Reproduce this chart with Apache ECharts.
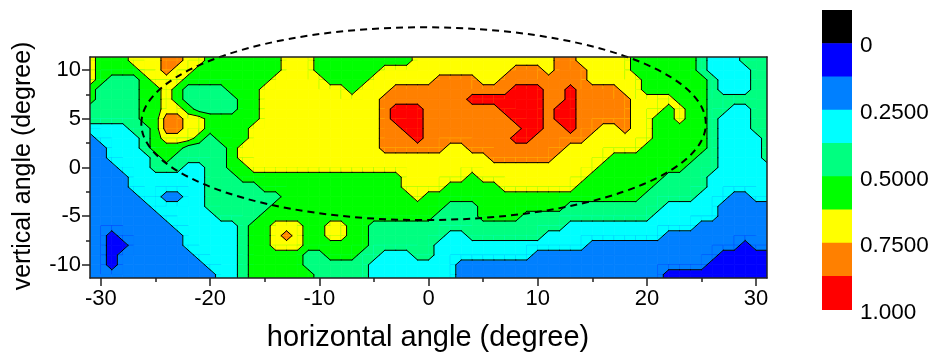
<!DOCTYPE html>
<html>
<head>
<meta charset="utf-8">
<title>angle map</title>
<script src="https://cdn.jsdelivr.net/npm/echarts@6/dist/echarts.min.js"></script>
<style>
  html, body { margin: 0; padding: 0; background: #fff; }
  #chart { width: 937px; height: 358px; }
</style>
</head>
<body>
<div id="chart"></div>
<script>
// grid nodes (degree)
const xNodes = [-31, -30, -29, -28, -27, -26, -25, -24, -23, -22, -21, -20, -19, -18, -17, -16,
  -15, -14, -13, -12, -11, -10, -9, -8, -7, -6, -5, -4, -3, -2, -1, 0, 1, 2, 3, 4, 5, 6, 7, 8,
  9, 10, 11, 12, 13, 14, 15, 16, 17, 18, 19, 20, 21, 22, 23, 24, 25, 26, 27, 28, 29, 30, 31];
const yNodes = [12, 11, 10, 9, 8, 7, 6, 5, 4, 3, 2, 1, 0, -1, -2, -3, -4, -5, -6, -7, -8, -9, -10, -11, -12];

// colour band at every node, one string per row (top row first)
// 1 blue, 2 azure, 3 cyan, 4 spring green, 5 green, 6 yellow, 7 orange, 8 red
const bandRows = [
  "6 555 666 77 66 5555555 666 555555555 6666666666666 77 66666 555555 4 333 444",
  "6 555 666 77 66 5555555 666 555555555 6666666666666 77 66666 555555 4 333 444",
  "6 5555 66 7 66 55555555 666 555555 666666666666 777 6 777 6666 555555 4 3333 44",
  "6 5 444 5 666 55555555 66666 5555 666666 7777 66 77777777 66666 555555 4 333 44",
  "5 4444 55 6 5 4444 555 66666666 5 666 77777777777 888 77 8 7777 66 555555 4 333 44",
  "5 4444 55 6 5 44444 55 66666666666 77777777 8888888 77 8 77777 6666 555 444444",
  "44444 55 66 5 4444 55 66666666666 7 888 7777777 8888 7 88 77777 666 5 6 55 44 33 44",
  "44444 55 77 66 55555 66666666666 7 888 77777777 888 7 88 77777 66 55 6 55 4 333 44",
  "3333 44 5 77 66 5555 666666666666 77 88 777777777 88 77 8 77 66 7 66 55555 4 333 44",
  "2 3333 4 5 666 5 4 555 666666666666 777 8 77777777 88 77777 666666 55555 4 3333 4",
  "22 333 4 555 4444 5 6666666666666 777777 66 777777777 6666666 555555 4 3333 4",
  "22 3333 4 5 44444 5 66666666666666666666666 777777 66666 55555555 44 3333 4",
  "222 333 444 33 44 55 66666666666666666666666666666666 55555555 444 33333",
  "2222 3333333 444 555555555555555 666666 5 6666666666 5555555 4444 333333",
  "2222 3333333 44444 5555555555555 6666 55555 6666666 5555555 44444 333333",
  "22222 33 22 33 4444444 555555555555 6 55555555555555555555 44444 333 22 33",
  "222222 33333 444444 5555555555555555 444 55555555 444444444 33333 22222",
  "2222222 33333 4444 5555555555555555 4444 5555 444444444444 333333 22222",
  "22222222 333333 4 55 666 55 66 55 444444444444444444 333333333333 2222222",
  "22 1 222222 33333 4 55 6 7 6 55 66 55 4444444 33 4444444 33333333333 2222222222",
  "22 11 22222 33333 4 55 666 555555 444444 33333333333333 22222222222222 1 22",
  "22 1 2222222 3333 4 55555 44 555 44 333 44 333333333 22222222222222222 11111",
  "22 1 22222222 333 4 55555 444444 33333333 22222222222222222222222 111111",
  "222222222222 33 4 555555 44444 33333333 2222222222222222222 1111111111",
  "222222222222 33 4 555555 44444 33333333 2222222222222222222 1111111111"
];

const bandColors = ['#000000', '#0000ff', '#0080ff', '#00ffff', '#00ff80', '#00ff00', '#ffff00', '#ff8000', '#ff0000'];
const barLabels = ['0', '0.2500', '0.5000', '0.7500', '1.000'];
const barLabelSlots = [1, 3, 5, 7, 9];

const xMajorTicks = [-30, -20, -10, 0, 10, 20, 30];
const xMinorTicks = [-25, -15, -5, 5, 15, 25];
const yMajorTicks = [-10, -5, 0, 5, 10];
const yMinorTicks = [-7.5, -2.5, 2.5, 7.5];

// dashed outline: centre x, centre y, half width, half height (degree)
const outline = [-0.45, 4.5, 25.85, 9.9];

const grid = bandRows.map(r => r.replace(/\s+/g, '').split('').map(Number));
const badRows = grid.map((r, i) => r.length === xNodes.length ? -1 : i).filter(i => i >= 0);

const cells = [];
for (let r = 0; r < yNodes.length - 1; r++) {
  for (let c = 0; c < xNodes.length - 1; c++) cells.push([c, r]);
}

function corners(c, r) {
  return [
    [xNodes[c], yNodes[r], grid[r][c]],
    [xNodes[c + 1], yNodes[r], grid[r][c + 1]],
    [xNodes[c + 1], yNodes[r + 1], grid[r + 1][c + 1]],
    [xNodes[c], yNodes[r + 1], grid[r + 1][c]]
  ];
}

function cut(a, b, k) {
  const f = (k - 0.5 - a[2]) / (b[2] - a[2]);
  return [a[0] + f * (b[0] - a[0]), a[1] + f * (b[1] - a[1])];
}

// part of a cell where band >= k
function bandPolygon(pts, k) {
  const out = [];
  for (let i = 0; i < 4; i++) {
    const a = pts[i], b = pts[(i + 1) % 4];
    if (a[2] >= k) out.push([a[0], a[1]]);
    if ((a[2] >= k) !== (b[2] >= k)) out.push(cut(a, b, k));
  }
  return out;
}

// contour pieces for level k inside a cell
function bandEdges(pts, k) {
  const cross = [];
  for (let i = 0; i < 4; i++) {
    const a = pts[i], b = pts[(i + 1) % 4];
    if ((a[2] >= k) !== (b[2] >= k)) cross.push({ p: cut(a, b, k), leaving: a[2] >= k });
  }
  const segs = [];
  cross.forEach((q, j) => {
    if (q.leaving) segs.push([q.p, cross[(j + 1) % cross.length].p]);
  });
  return segs;
}

function levelsOf(pts) {
  const lv = pts.map(p => p[2]);
  return [Math.min.apply(null, lv), Math.max.apply(null, lv)];
}

const font = "'Liberation Sans', Arial, Helvetica, sans-serif";
const axisColor = '#222';

const chart = echarts.init(document.getElementById('chart'), null, { renderer: 'canvas' });

const graphics = [
  {
    type: 'text', x: 428, y: 338, z: 20,
    style: { text: 'horizontal angle (degree)', font: '29px ' + font, fill: '#000', textAlign: 'center', textVerticalAlign: 'middle' }
  },
  {
    type: 'text', x: 23, y: 166, rotation: Math.PI / 2, z: 20,
    style: { text: 'vertical angle (degree)', font: '25px ' + font, fill: '#000', textAlign: 'center', textVerticalAlign: 'middle' }
  }
];

// colour bar
const barLeft = 822, barTop = 10, barW = 30, barH = 33.26;
bandColors.forEach((col, i) => {
  graphics.push({
    type: 'rect', z: 20,
    shape: { x: barLeft, y: barTop + i * barH, width: barW, height: barH + 0.6 },
    style: { fill: col }
  });
});
barLabels.forEach((t, j) => {
  graphics.push({
    type: 'text', x: 860, y: barTop + barLabelSlots[j] * barH + 3, z: 20,
    style: { text: t, font: '22.5px ' + font, fill: '#000', textAlign: 'left', textVerticalAlign: 'middle' }
  });
});
if (badRows.length) {
  graphics.push({ type: 'text', x: 5, y: 5, z: 30, style: { text: 'bad rows ' + badRows.join(','), fill: 'red', font: '14px sans-serif' } });
}

function valueAxis(extra, min, max) {
  return Object.assign({
    type: 'value', min: min, max: max, z: 10,
    splitLine: { show: false },
    axisLine: { show: false, onZero: false },
    axisTick: { show: false },
    axisLabel: { show: false }
  }, extra);
}

const lineStyle = { color: axisColor, width: 1.5 };

chart.setOption({
  animation: false,
  grid: { left: 90, right: 170, top: 57, bottom: 80, outerBoundsMode: 'none' },
  xAxis: [
    valueAxis({
      position: 'bottom',
      axisLine: { show: true, onZero: false, lineStyle: lineStyle },
      axisTick: { show: true, customValues: xMajorTicks, length: 8, lineStyle: lineStyle },
      axisLabel: { show: true, customValues: xMajorTicks, margin: 10, color: '#000', fontSize: 22, fontFamily: font }
    }, -31, 31),
    valueAxis({
      position: 'bottom',
      axisTick: { show: true, customValues: xMinorTicks, length: 4, lineStyle: lineStyle }
    }, -31, 31),
    valueAxis({
      position: 'top',
      axisLine: { show: true, onZero: false, lineStyle: lineStyle }
    }, -31, 31)
  ],
  yAxis: [
    valueAxis({
      position: 'left',
      axisLine: { show: true, onZero: false, lineStyle: lineStyle },
      axisTick: { show: true, customValues: yMajorTicks, length: 8, lineStyle: lineStyle },
      axisLabel: { show: true, customValues: yMajorTicks, margin: 9, color: '#000', fontSize: 22, fontFamily: font }
    }, -11.35, 11.35),
    valueAxis({
      position: 'left',
      axisTick: { show: true, customValues: yMinorTicks, length: 4, lineStyle: lineStyle }
    }, -11.35, 11.35),
    valueAxis({
      position: 'right',
      axisLine: { show: true, onZero: false, lineStyle: lineStyle }
    }, -11.35, 11.35)
  ],
  graphic: graphics,
  series: [
    {
      // filled bands
      type: 'custom', xAxisIndex: 0, yAxisIndex: 0, clip: true, silent: true, z: 2,
      progressive: 0,
      data: cells,
      renderItem: function (params, api) {
        const pts = corners(api.value(0), api.value(1));
        const [lo, hi] = levelsOf(pts);
        const children = [];
        for (let k = lo; k <= hi; k++) {
          const poly = k === lo ? pts.map(p => [p[0], p[1]]) : bandPolygon(pts, k);
          children.push({
            type: 'polygon',
            shape: { points: poly.map(p => api.coord(p)) },
            style: { fill: bandColors[k], stroke: bandColors[k], lineWidth: 0.8 }
          });
        }
        return { type: 'group', children: children };
      }
    },
    {
      // contour lines
      type: 'custom', xAxisIndex: 0, yAxisIndex: 0, clip: true, silent: true, z: 3,
      progressive: 0,
      data: cells,
      renderItem: function (params, api) {
        const pts = corners(api.value(0), api.value(1));
        const [lo, hi] = levelsOf(pts);
        const children = [];
        for (let k = lo + 1; k <= hi; k++) {
          bandEdges(pts, k).forEach(s => {
            const a = api.coord(s[0]), b = api.coord(s[1]);
            children.push({
              type: 'line',
              shape: { x1: a[0], y1: a[1], x2: b[0], y2: b[1] },
              style: { stroke: '#000', lineWidth: 1, lineCap: 'round' }
            });
          });
        }
        return { type: 'group', children: children };
      }
    },
    {
      // dashed outline, allowed to run above the frame
      type: 'custom', xAxisIndex: 0, yAxisIndex: 0, clip: false, silent: true, z: 4,
      data: [outline],
      renderItem: function (params, api) {
        const c = api.coord([api.value(0), api.value(1)]);
        const s = api.size([api.value(2), api.value(3)]);
        return {
          type: 'ellipse',
          shape: { cx: c[0], cy: c[1], rx: s[0], ry: s[1] },
          style: { fill: 'none', stroke: '#000', lineWidth: 2, lineDash: [7, 5] }
        };
      }
    }
  ]
});
</script>
</body>
</html>
